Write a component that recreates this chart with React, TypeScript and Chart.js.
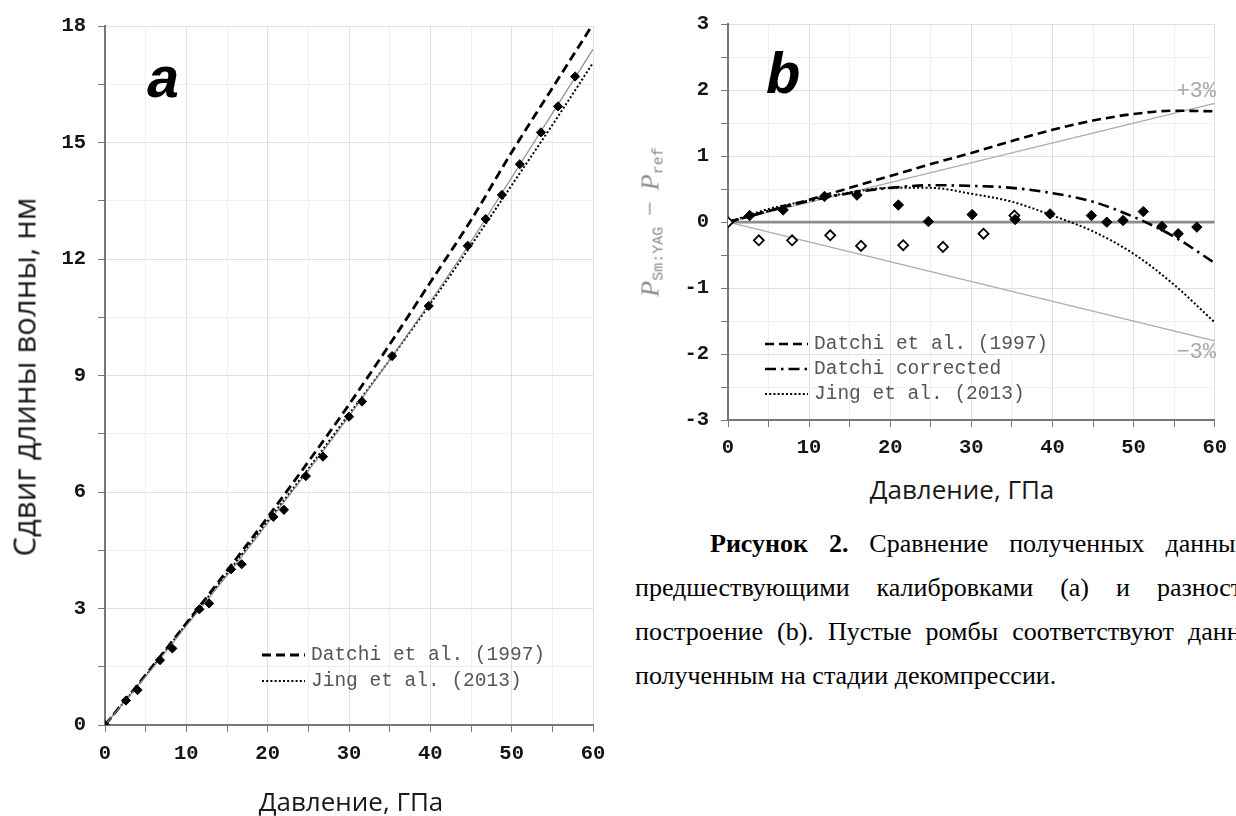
import React, { useEffect, useRef } from 'react';
import { Chart, registerables } from 'chart.js';

Chart.register(...registerables);

// ---------- Panel (a): wavelength shift vs pressure ----------
const curvePressure = [0, 5, 10, 15, 20, 25, 30, 35, 40, 45, 50, 55, 60];
const datchiShift = [0, 1.29, 2.62, 3.97, 5.35, 6.78, 8.25, 9.8, 11.4, 13.0, 14.75, 16.4, 18.05];
const fitShift = [0, 1.25, 2.55, 3.85, 5.2, 6.55, 7.95, 9.4, 10.9, 12.45, 14.1, 15.75, 17.4];
const jingShift = [0, 1.27, 2.6, 3.9, 5.25, 6.6, 8.0, 9.4, 10.85, 12.35, 13.9, 15.45, 17.05];

const measuredPressureA = [0, 2.58, 4.0, 6.76, 8.28, 11.6, 12.8, 15.5, 16.8, 20.7, 22.0, 24.7, 26.8, 30.0, 31.6, 35.3, 39.8, 44.6, 46.8, 48.8, 51.0, 53.6, 55.7, 57.8];
const measuredShiftA = [0, 0.63, 0.9, 1.67, 1.97, 2.98, 3.13, 4.01, 4.14, 5.36, 5.54, 6.41, 6.91, 7.94, 8.33, 9.5, 10.79, 12.34, 13.03, 13.65, 14.44, 15.26, 15.93, 16.7];

const legendNamesA = ['Datchi et al. (1997)', 'Jing et al. (2013)'];

// ---------- Panel (b): pressure difference ----------
const datchiDiff = [0, 0.17, 0.34, 0.52, 0.7, 0.88, 1.05, 1.23, 1.4, 1.54, 1.64, 1.69, 1.68];
const datchiCorrDiff = [0, 0.17, 0.32, 0.44, 0.52, 0.56, 0.55, 0.52, 0.44, 0.31, 0.08, -0.22, -0.62];
const jingDiff = [0, 0.2, 0.33, 0.45, 0.52, 0.52, 0.43, 0.31, 0.1, -0.14, -0.48, -0.95, -1.52];

const envelopePressure = [0, 60];
const plus3Diff = [0, 1.8];
const minus3Diff = [0, -1.8];
const zeroDiff = [0, 0];

const compressionPressure = [2.67, 6.8, 11.9, 15.9, 21.0, 24.7, 30.1, 35.4, 39.7, 44.8, 46.7, 48.7, 51.2, 53.5, 55.5, 57.8];
const compressionDiff = [0.1, 0.185, 0.39, 0.41, 0.26, 0.01, 0.115, 0.04, 0.125, 0.1, 0.0, 0.025, 0.16, -0.065, -0.175, -0.075];
const decompressionPressure = [0, 3.8, 7.9, 12.6, 16.4, 21.6, 26.5, 31.5, 35.3];
const decompressionDiff = [0, -0.275, -0.275, -0.2, -0.36, -0.35, -0.375, -0.175, 0.1];

const legendNamesB = ['Datchi et al. (1997)', 'Datchi corrected', 'Jing et al. (2013)'];

const xTicksLabelled = [0, 10, 20, 30, 40, 50, 60];

const zip = (xs: number[], ys: number[]) => xs.map((x, i) => ({ x, y: ys[i] }));

const TICK_FONT = { family: '"Liberation Mono", "DejaVu Sans Mono", monospace', size: 20.5, weight: 'bold' as const };

function gridColor(isMajor: (v: number) => boolean) {
  return (ctx: any) => {
    const v = ctx.tick ? ctx.tick.value : 0;
    return isMajor(v) ? '#e0e0e0' : '#efefef';
  };
}

function makeScale(min: number, max: number, step: number, isMajor: (v: number) => boolean, fitSize: number, horizontal: boolean, padding: number) {
  return {
    type: 'linear',
    min,
    max,
    afterFit: (s: any) => {
      if (horizontal) s.height = fitSize;
      else s.width = fitSize;
    },
    ticks: {
      stepSize: step,
      autoSkip: false,
      maxRotation: 0,
      padding,
      color: '#151515',
      font: TICK_FONT,
      callback: (v: any) => (isMajor(Number(v)) ? String(v) : ''),
    },
    grid: {
      color: gridColor(isMajor),
      lineWidth: 1,
      tickLength: 7,
      tickColor: '#777',
      drawTicks: true,
    },
    border: { color: '#777', width: 2 },
  };
}

type LegendRow = { label: string; dash: number[]; width: number; y: number };

function annotationPlugin(id: string, rows: LegendRow[], sampleX1: number, sampleX2: number, textX: number, extras: (ctx: CanvasRenderingContext2D) => void) {
  return {
    id,
    afterDraw(chart: any) {
      const ctx: CanvasRenderingContext2D = chart.ctx;
      ctx.save();
      rows.forEach((r) => {
        ctx.beginPath();
        ctx.setLineDash(r.dash);
        ctx.lineWidth = r.width;
        ctx.strokeStyle = '#000';
        ctx.lineCap = 'butt';
        ctx.moveTo(sampleX1, r.y);
        ctx.lineTo(sampleX2, r.y);
        ctx.stroke();
        ctx.setLineDash([]);
        ctx.font = '19.5px "Liberation Mono", monospace';
        ctx.fillStyle = '#555';
        ctx.textBaseline = 'middle';
        ctx.textAlign = 'left';
        ctx.fillText(r.label, textX, r.y);
      });
      extras(ctx);
      ctx.restore();
    },
  };
}

const DASHED = [9, 5];
const DOTTED = [2, 2.2];
const DASHDOT = [11, 5, 2.5, 5];

export default function App() {
  const refA = useRef<HTMLCanvasElement>(null);
  const refB = useRef<HTMLCanvasElement>(null);

  useEffect(() => {
    const isMajorX = (v: number) => xTicksLabelled.includes(v);
    const isMajorYA = (v: number) => Math.abs(v / 3 - Math.round(v / 3)) < 1e-6;
    const isMajorYB = (v: number) => Math.abs(v - Math.round(v)) < 1e-6;

    const chartA = new Chart(refA.current!, {
      type: 'scatter',
      data: {
        datasets: [
          {
            label: 'measured',
            data: zip(measuredPressureA, measuredShiftA),
            pointStyle: 'rectRot',
            pointRadius: 4.6,
            backgroundColor: '#000',
            borderColor: '#000',
            borderWidth: 1,
          },
          {
            label: 'fit',
            data: zip(curvePressure, fitShift),
            showLine: true,
            pointRadius: 0,
            borderColor: '#8a8a8a',
            borderWidth: 1.2,
            cubicInterpolationMode: 'monotone',
          },
          {
            label: legendNamesA[1],
            data: zip(curvePressure, jingShift),
            showLine: true,
            pointRadius: 0,
            borderColor: '#000',
            borderWidth: 2,
            borderDash: DOTTED,
            cubicInterpolationMode: 'monotone',
          },
          {
            label: legendNamesA[0],
            data: zip(curvePressure, datchiShift),
            showLine: true,
            pointRadius: 0,
            borderColor: '#000',
            borderWidth: 2.8,
            borderDash: DASHED,
            cubicInterpolationMode: 'monotone',
          },
        ],
      } as any,
      options: {
        responsive: false,
        animation: false,
        devicePixelRatio: 1,
        layout: { padding: { top: 26, right: 27, left: 0, bottom: 0 } },
        plugins: { legend: { display: false }, tooltip: { enabled: false } },
        scales: {
          x: makeScale(0, 60, 5, isMajorX, 91, true, 10),
          y: makeScale(0, 18, 1.5, isMajorYA, 105, false, 12),
        },
      } as any,
      plugins: [
        annotationPlugin(
          'annotA',
          [
            { label: legendNamesA[0], dash: DASHED, width: 2.8, y: 655 },
            { label: legendNamesA[1], dash: DOTTED, width: 2, y: 681 },
          ],
          262,
          305,
          311,
          (ctx) => {
            ctx.font = 'italic bold 58px "Liberation Mono", monospace';
            ctx.fillStyle = '#000';
            ctx.textBaseline = 'alphabetic';
            ctx.textAlign = 'left';
            ctx.fillText('a', 146, 97);
          }
        ),
      ],
    });

    const chartB = new Chart(refB.current!, {
      type: 'scatter',
      data: {
        datasets: [
          {
            label: 'compression',
            data: zip(compressionPressure, compressionDiff),
            pointStyle: 'rectRot',
            pointRadius: 5.2,
            backgroundColor: '#000',
            borderColor: '#000',
            borderWidth: 1,
          },
          {
            label: 'decompression',
            data: zip(decompressionPressure, decompressionDiff),
            pointStyle: 'rectRot',
            pointRadius: 5,
            backgroundColor: '#fff',
            borderColor: '#000',
            borderWidth: 1.8,
          },
          {
            label: legendNamesB[0],
            data: zip(curvePressure, datchiDiff),
            showLine: true,
            pointRadius: 0,
            borderColor: '#000',
            borderWidth: 2.6,
            borderDash: DASHED,
            cubicInterpolationMode: 'monotone',
          },
          {
            label: legendNamesB[1],
            data: zip(curvePressure, datchiCorrDiff),
            showLine: true,
            pointRadius: 0,
            borderColor: '#000',
            borderWidth: 2.6,
            borderDash: DASHDOT,
            cubicInterpolationMode: 'monotone',
          },
          {
            label: legendNamesB[2],
            data: zip(curvePressure, jingDiff),
            showLine: true,
            pointRadius: 0,
            borderColor: '#000',
            borderWidth: 2,
            borderDash: DOTTED,
            cubicInterpolationMode: 'monotone',
          },
          {
            label: 'zero',
            data: zip(envelopePressure, zeroDiff),
            showLine: true,
            pointRadius: 0,
            borderColor: '#8c8c8c',
            borderWidth: 2.6,
          },
          {
            label: '+3%',
            data: zip(envelopePressure, plus3Diff),
            showLine: true,
            pointRadius: 0,
            borderColor: '#ababab',
            borderWidth: 1.2,
          },
          {
            label: '-3%',
            data: zip(envelopePressure, minus3Diff),
            showLine: true,
            pointRadius: 0,
            borderColor: '#ababab',
            borderWidth: 1.2,
          },
        ],
      } as any,
      options: {
        responsive: false,
        animation: false,
        devicePixelRatio: 1,
        layout: { padding: { top: 21, right: 14, left: 0, bottom: 0 } },
        plugins: { legend: { display: false }, tooltip: { enabled: false } },
        scales: {
          x: makeScale(0, 60, 5, isMajorX, 50, true, 9),
          y: makeScale(-3, 3, 0.5, isMajorYB, 108, false, 12),
        },
      } as any,
      plugins: [
        annotationPlugin(
          'annotB',
          [
            { label: legendNamesB[0], dash: DASHED, width: 2.6, y: 344 },
            { label: legendNamesB[1], dash: DASHDOT, width: 2.6, y: 369 },
            { label: legendNamesB[2], dash: DOTTED, width: 2, y: 394 },
          ],
          145,
          188,
          194,
          (ctx) => {
            ctx.font = 'italic bold 58px "Liberation Mono", monospace';
            ctx.fillStyle = '#000';
            ctx.textBaseline = 'alphabetic';
            ctx.textAlign = 'left';
            ctx.fillText('b', 146, 93);
            ctx.font = '22px "Liberation Mono", monospace';
            ctx.fillStyle = '#a8a8a8';
            ctx.textAlign = 'right';
            ctx.fillText('+3%', 596, 97);
            ctx.fillText('\u22123%', 596, 358);
          }
        ),
      ],
    });

    return () => {
      chartA.destroy();
      chartB.destroy();
    };
  }, []);

  const sans = '"Open Sans", "Noto Sans", sans-serif';
  const serif = '"Liberation Serif", "Times New Roman", serif';
  const lineStyle: React.CSSProperties = {
    height: 44,
    lineHeight: '44px',
    whiteSpace: 'nowrap',
    textAlign: 'justify',
    textAlignLast: 'justify' as any,
  };

  return (
    <div style={{ position: 'fixed', left: 0, top: 0, width: 1236, height: 816, overflow: 'hidden', background: '#fff', color: '#111' }}>
      <canvas ref={refA} width={620} height={816} style={{ position: 'absolute', left: 0, top: 0 }} />
      <canvas ref={refB} width={616} height={470} style={{ position: 'absolute', left: 620, top: 0 }} />

      {/* Panel (a) axis titles */}
      <div
        style={{
          position: 'absolute', left: 24, top: 377, transform: 'translate(-50%, -50%) rotate(-90deg)',
          fontFamily: sans, fontSize: 31, lineHeight: 1, whiteSpace: 'nowrap', color: '#1a1a1a',
        }}
      >
        Сдвиг длины волны, нм
      </div>
      <div
        style={{
          position: 'absolute', left: 351, top: 788, transform: 'translateX(-50%)',
          fontFamily: sans, fontSize: 26, lineHeight: 1, whiteSpace: 'nowrap', color: '#1a1a1a',
        }}
      >
        Давление, ГПа
      </div>

      {/* Panel (b) axis titles */}
      <div
        style={{
          position: 'absolute', left: 652, top: 222, transform: 'translate(-50%, -50%) rotate(-90deg)',
          fontFamily: serif, fontSize: 26, lineHeight: 1, whiteSpace: 'nowrap', color: '#8a8a8a',
        }}
      >
        <i>P</i>
        <sub style={{ fontFamily: '"Liberation Mono", monospace', fontSize: 15, fontStyle: 'normal', verticalAlign: '-4px' }}>Sm:YAG</sub>
        <span style={{ margin: '0 11px' }}>−</span>
        <i>P</i>
        <sub style={{ fontFamily: '"Liberation Mono", monospace', fontSize: 15, fontStyle: 'normal', verticalAlign: '-4px' }}>ref</sub>
      </div>
      <div
        style={{
          position: 'absolute', left: 962, top: 476, transform: 'translateX(-50%)',
          fontFamily: sans, fontSize: 26, lineHeight: 1, whiteSpace: 'nowrap', color: '#1a1a1a',
        }}
      >
        Давление, ГПа
      </div>

      {/* Caption */}
      <div style={{ position: 'absolute', left: 635, top: 522, width: 646, fontFamily: serif, fontSize: 26, color: '#000' }}>
        <div style={{ ...lineStyle, marginLeft: 75 }}>
          <b>Рисунок 2.</b> Сравнение полученных данных с
        </div>
        <div style={lineStyle}>предшествующими калибровками (a) и разностное</div>
        <div style={lineStyle}>построение (b). Пустые ромбы соответствуют данным,</div>
        <div style={{ ...lineStyle, textAlign: 'left', textAlignLast: 'left' as any }}>полученным на стадии декомпрессии.</div>
      </div>
    </div>
  );
}
